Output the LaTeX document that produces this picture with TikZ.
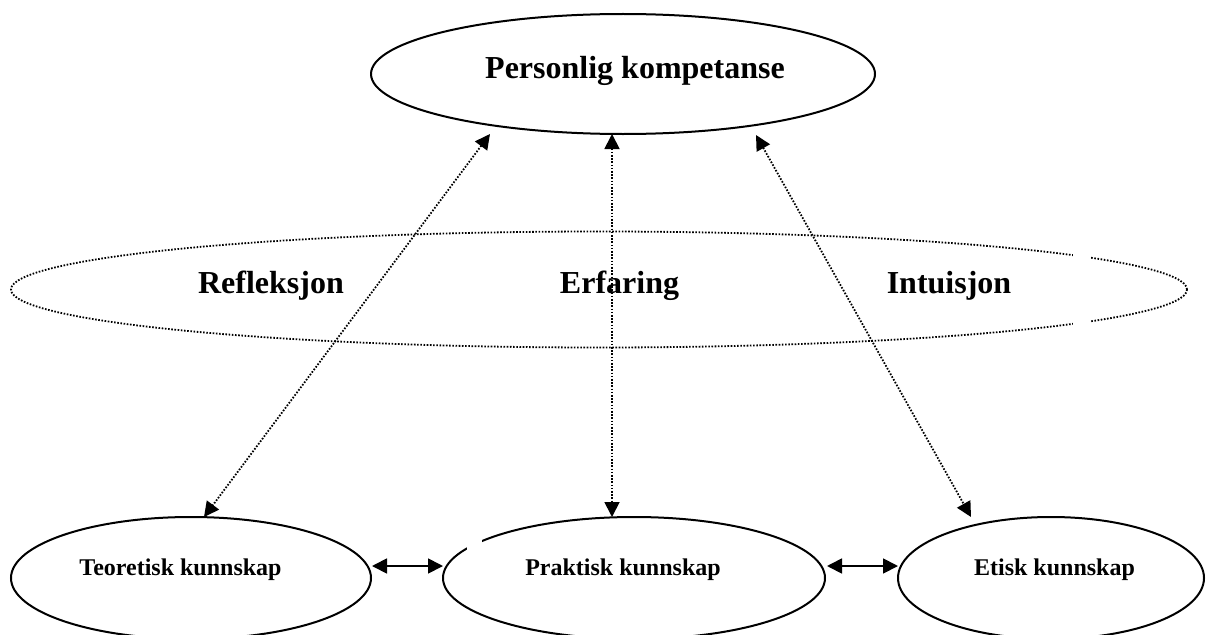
\documentclass[tikz,border=0pt]{standalone}
\usepackage{fontspec}
\setmainfont{Liberation Serif}
\usetikzlibrary{shapes.geometric,arrows.meta,calc}
\begin{document}
\begin{tikzpicture}[x=1pt,y=-1pt,
  oval/.style={ellipse,draw,line width=2pt,inner sep=0pt,outer sep=0pt},
  dotoval/.style={ellipse,draw,line width=1.8pt,dash pattern=on 1.6pt off 1.6pt,inner sep=0pt,outer sep=0pt},
  bigtxt/.style={font=\fontsize{32}{36}\selectfont\bfseries,anchor=base,inner sep=0pt},
  smalltxt/.style={font=\fontsize{24}{28}\selectfont\bfseries,anchor=base,inner sep=0pt},
  dotarrow/.style={line width=1.8pt,dash pattern=on 1.6pt off 1.6pt,{Triangle[length=15pt,width=15pt]}-{Triangle[length=15pt,width=15pt]}},
  solidarrow/.style={line width=1.8pt,{Triangle[length=15pt,width=15pt]}-{Triangle[length=15pt,width=15pt]}}
]
\useasboundingbox[fill=white] (0,0) rectangle (1209,634);

% ellipses
\node[oval,minimum width=504pt,minimum height=120pt] (P) at (623,74) {};
\node[dotoval,minimum width=1176pt,minimum height=116pt] (D) at (599,289.5) {};
\node[oval,minimum width=360pt,minimum height=122pt] (T) at (191,578) {};
\node[oval,minimum width=382pt,minimum height=122pt] (Pr) at (634,578) {};
\node[oval,minimum width=306pt,minimum height=122pt] (E) at (1051,578) {};

% gaps left by text boxes
\fill[white] (1073,245) rectangle (1091,335);
\fill[white] (467,536) rectangle (482,553);

% texts
\node[bigtxt] (Pt) at (635,78) {Personlig kompetanse};
\node[bigtxt] (Rt) at (271,293) {Refleksjon};
\node[bigtxt] (Et) at (619.5,293) {Erfaring};
\node[bigtxt] (It) at (949,293) {Intuisjon};
\node[smalltxt] (Tt) at (180.5,575) {Teoretisk kunnskap};
\node[smalltxt] (Prt) at (623,575) {Praktisk kunnskap};
\node[smalltxt] (Ekt) at (1054.5,575) {Etisk kunnskap};

% connectors
\draw[dotarrow] ($(P.center)+(-133,60)$) -- ($(T.center)+(13,-61)$);
\draw[dotarrow] ($(P.center)+(-11,60)$) -- ($(Pr.center)+(-22,-61)$);
\draw[dotarrow] ($(P.center)+(133,61)$) -- ($(E.center)+(-80,-61)$);
\draw[solidarrow] ($(T.east)+(1,-12)$) -- ($(Pr.west)+(0,-12)$);
\draw[solidarrow] ($(Pr.east)+(2,-12)$) -- ($(E.west)+(0,-12)$);
\end{tikzpicture}
\end{document}
